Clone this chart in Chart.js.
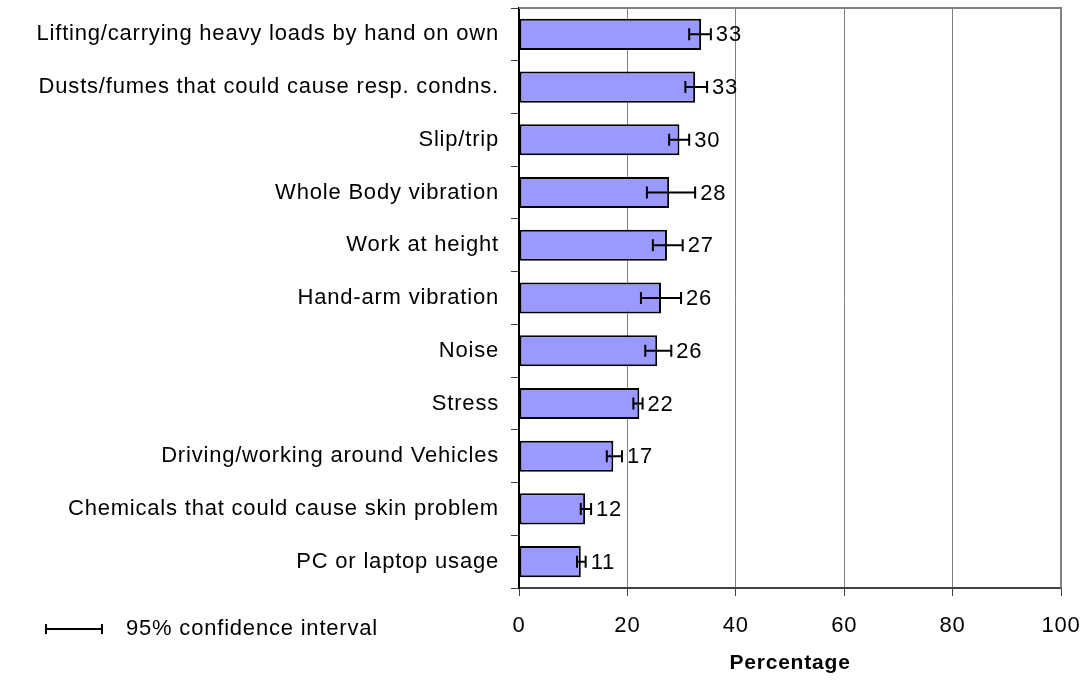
<!DOCTYPE html>
<html>
<head>
<meta charset="utf-8">
<script src="https://cdn.jsdelivr.net/npm/chart.js@4/dist/chart.umd.min.js"></script>
<style>
  html, body { margin: 0; padding: 0; background: #fff; }
  #wrap { width: 1088px; height: 682px; }
</style>
</head>
<body>
<div id="wrap"><canvas id="c" width="1088" height="682"></canvas></div>
<script>
const categories = [
  "Lifting/carrying heavy loads by hand on own",
  "Dusts/fumes that could cause resp. condns.",
  "Slip/trip",
  "Whole Body vibration",
  "Work at height",
  "Hand-arm vibration",
  "Noise",
  "Stress",
  "Driving/working around Vehicles",
  "Chemicals that could cause skin problem",
  "PC or laptop usage"
];
const values = [33.6, 32.5, 29.6, 27.7, 27.3, 26.2, 25.5, 22.2, 17.4, 12.2, 11.4];
const ciLow  = [31.4, 30.7, 27.7, 23.6, 24.7, 22.5, 23.3, 21.1, 16.2, 11.4, 10.7];
const ciHigh = [35.4, 34.7, 31.4, 32.5, 30.2, 29.9, 28.1, 22.8, 19.0, 13.3, 12.3];
const valueLabels = ["33", "33", "30", "28", "27", "26", "26", "22", "17", "12", "11"];
const xTicks = [0, 20, 40, 60, 80, 100];
const xTitle = "Percentage";
const legendText = "95% confidence interval";

const FONT = "'Liberation Sans', Arial, sans-serif";
const SPACING = '0.8px';
const FS = 22;

const spacingPlugin = {
  id: 'spacing',
  beforeDraw(chart) { chart.ctx.letterSpacing = SPACING; }
};

const frameAndExtras = {
  id: 'extras',
  afterDatasetsDraw(chart) {
    const ctx = chart.ctx;
    const x = chart.scales.x;
    const meta = chart.getDatasetMeta(0);
    ctx.save();
    ctx.letterSpacing = SPACING;
    ctx.strokeStyle = '#000';
    ctx.lineWidth = 2;
    meta.data.forEach((bar, i) => {
      const yc = bar.y;
      const x1 = x.getPixelForValue(ciLow[i]);
      const x2 = x.getPixelForValue(ciHigh[i]);
      ctx.beginPath();
      ctx.moveTo(x1, yc); ctx.lineTo(x2, yc);
      ctx.moveTo(x1, yc - 6); ctx.lineTo(x1, yc + 6);
      ctx.moveTo(x2, yc - 6); ctx.lineTo(x2, yc + 6);
      ctx.stroke();
    });
    ctx.fillStyle = '#000';
    ctx.font = FS + 'px ' + FONT;
    ctx.textAlign = 'left';
    ctx.textBaseline = 'middle';
    meta.data.forEach((bar, i) => {
      ctx.fillText(valueLabels[i], x.getPixelForValue(ciHigh[i]) + 5, bar.y + 1);
    });
    ctx.restore();
  },
  afterDraw(chart) {
    const ctx = chart.ctx;
    const a = chart.chartArea;
    ctx.save();
    ctx.strokeStyle = '#808080';
    ctx.lineWidth = 2;
    ctx.beginPath();
    ctx.moveTo(a.left, a.top);
    ctx.lineTo(a.right, a.top);
    ctx.lineTo(a.right, a.bottom);
    ctx.stroke();
    const ly = 629;
    ctx.strokeStyle = '#000';
    ctx.lineWidth = 2;
    ctx.beginPath();
    ctx.moveTo(46, ly); ctx.lineTo(102, ly);
    ctx.moveTo(46, ly - 5); ctx.lineTo(46, ly + 5);
    ctx.moveTo(102, ly - 5); ctx.lineTo(102, ly + 5);
    ctx.stroke();
    ctx.letterSpacing = SPACING;
    ctx.fillStyle = '#000';
    ctx.font = FS + 'px ' + FONT;
    ctx.textAlign = 'left';
    ctx.textBaseline = 'middle';
    ctx.fillText(legendText, 126, ly);
    ctx.restore();
  }
};

new Chart(document.getElementById('c'), {
  type: 'bar',
  data: {
    labels: categories,
    datasets: [{
      data: values,
      backgroundColor: '#9999FF',
      borderColor: '#000000',
      borderWidth: 2,
      borderSkipped: false,
      barPercentage: 0.59,
      categoryPercentage: 1.0
    }]
  },
  options: {
    indexAxis: 'y',
    responsive: false,
    animation: false,
    layout: { padding: { left: 0, right: 27, top: 8, bottom: 0 } },
    plugins: {
      legend: { display: false },
      tooltip: { enabled: false }
    },
    scales: {
      x: {
        type: 'linear',
        min: 0, max: 100,
        afterBuildTicks(scale) { scale.ticks = xTicks.map(v => ({ value: v })); },
        afterFit(scale) { scale.height = 94; scale.paddingLeft = 0; scale.paddingRight = 0; },
        ticks: { font: { size: FS, family: FONT }, color: '#000', padding: 17, maxRotation: 0 },
        grid: { color: '#808080', lineWidth: 1, tickLength: 8, tickColor: '#404040', drawTicks: true },
        border: { display: true, color: '#404040', width: 2 },
        title: { display: true, text: xTitle, font: { size: 21, weight: 'bold', family: FONT }, color: '#000', padding: { top: 0, bottom: 6 } }
      },
      y: {
        type: 'category',
        offset: true,
        afterFit(scale) { scale.width = 519; scale.paddingTop = 0; scale.paddingBottom = 0; },
        ticks: { font: { size: FS, family: FONT }, color: '#000', padding: 12, autoSkip: false },
        grid: { offset: true, drawOnChartArea: false, tickLength: 8, tickColor: '#404040', lineWidth: 1 },
        border: { display: true, color: '#000', width: 2 }
      }
    }
  },
  plugins: [spacingPlugin, frameAndExtras]
});
</script>
</body>
</html>
